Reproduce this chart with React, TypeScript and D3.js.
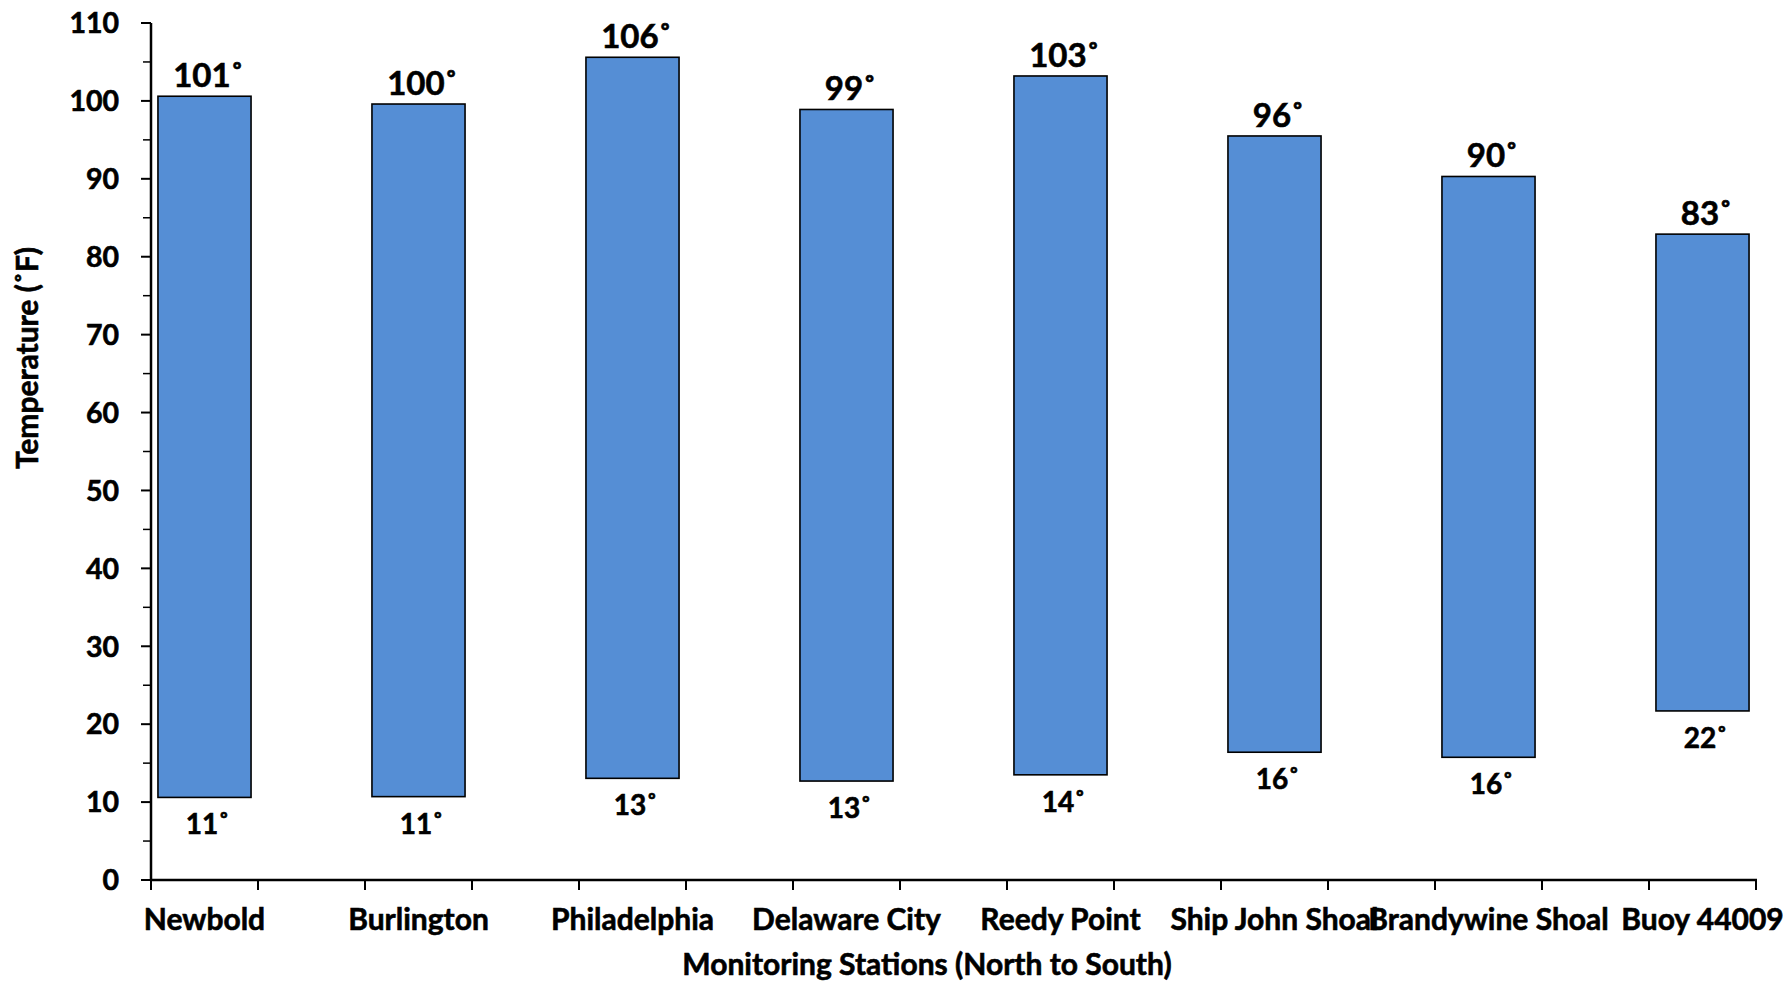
import React from "react";
import * as d3 from "d3";

const categories = [
  "Newbold",
  "Burlington",
  "Philadelphia",
  "Delaware City",
  "Reedy Point",
  "Ship John Shoal",
  "Brandywine Shoal",
  "Buoy 44009",
];
const highTemps = [100.6, 99.6, 105.6, 98.9, 103.2, 95.5, 90.3, 82.9];
const lowTemps = [10.6, 10.7, 13.05, 12.7, 13.5, 16.4, 15.75, 21.7];
const yTicks = [0, 10, 20, 30, 40, 50, 60, 70, 80, 90, 100, 110];
const yTitle = "Temperature (\u02DAF)";
const xTitle = "Monitoring Stations (North to South)";

const W = 1783;
const H = 984;
const FONT = "Lato, 'Open Sans', sans-serif";
const BAR_FILL = "#558ED5";
const TXT = { fontWeight: "bold", fill: "#000", stroke: "#000", strokeWidth: 0.6 } as const;

export default function App() {
  const x = d3.scaleLinear().domain([-0.25, categories.length - 0.75]).range([151, 1756]);
  const y = d3.scaleLinear().domain([0, 110]).range([880, 23]);
  const step = x(1) - x(0);
  const barW = step * 0.435;
  const xTickVals = d3.range(-0.25, categories.length - 0.75 + 0.001, 0.5);
  const minorTicks = d3.range(5, 110, 10);

  return (
    <svg
      width={W}
      height={H}
      style={{ position: "absolute", left: 0, top: 0, background: "#fff" }}
      fontFamily={FONT}
    >
      <rect x={0} y={0} width={W} height={H} fill="#fff" />
      {/* bars */}
      {categories.map((c, i) => (
        <rect
          key={c}
          x={x(i) - barW / 2}
          y={y(highTemps[i])}
          width={barW}
          height={y(lowTemps[i]) - y(highTemps[i])}
          fill={BAR_FILL}
          stroke="#000"
          strokeWidth={1.6}
        />
      ))}
      {/* data labels */}
      {categories.map((c, i) => (
        <g key={"lbl" + c} textAnchor="middle">
          <text x={x(i) + 4} y={y(highTemps[i]) - 9} fontSize={33} {...TXT}>
            {Math.round(highTemps[i]) + "\u02DA"}
          </text>
          <text x={x(i) + 3} y={y(lowTemps[i]) + 37} fontSize={28} {...TXT}>
            {Math.round(lowTemps[i]) + "\u02DA"}
          </text>
        </g>
      ))}
      {/* y axis */}
      <line x1={151} x2={151} y1={y(110)} y2={y(0)} stroke="#000" strokeWidth={2.5} />
      {yTicks.map((t) => (
        <g key={"yt" + t}>
          <line x1={141} x2={151} y1={y(t)} y2={y(t)} stroke="#000" strokeWidth={2} />
          <text x={119} y={y(t)} dy="0.36em" textAnchor="end" fontSize={28.5} {...TXT}>
            {t}
          </text>
        </g>
      ))}
      {minorTicks.map((t) => (
        <line key={"ym" + t} x1={143} x2={151} y1={y(t)} y2={y(t)} stroke="#000" strokeWidth={1.5} />
      ))}
      {/* x axis */}
      <line x1={x(-0.25) - 1} x2={x(categories.length - 0.75) + 1} y1={880} y2={880} stroke="#000" strokeWidth={2.5} />
      {xTickVals.map((t) => (
        <line key={"xt" + t} x1={x(t)} x2={x(t)} y1={880} y2={890} stroke="#000" strokeWidth={2} />
      ))}
      {categories.map((c, i) => (
        <text key={"cat" + c} x={x(i)} y={930} textAnchor="middle" fontSize={30} {...TXT}>
          {c}
        </text>
      ))}
      {/* axis titles */}
      <text x={927} y={975} textAnchor="middle" fontSize={30} {...TXT}>
        {xTitle}
      </text>
      <text transform={`translate(38, 358) rotate(-90)`} textAnchor="middle" fontSize={30} {...TXT}>
        {yTitle}
      </text>
    </svg>
  );
}
